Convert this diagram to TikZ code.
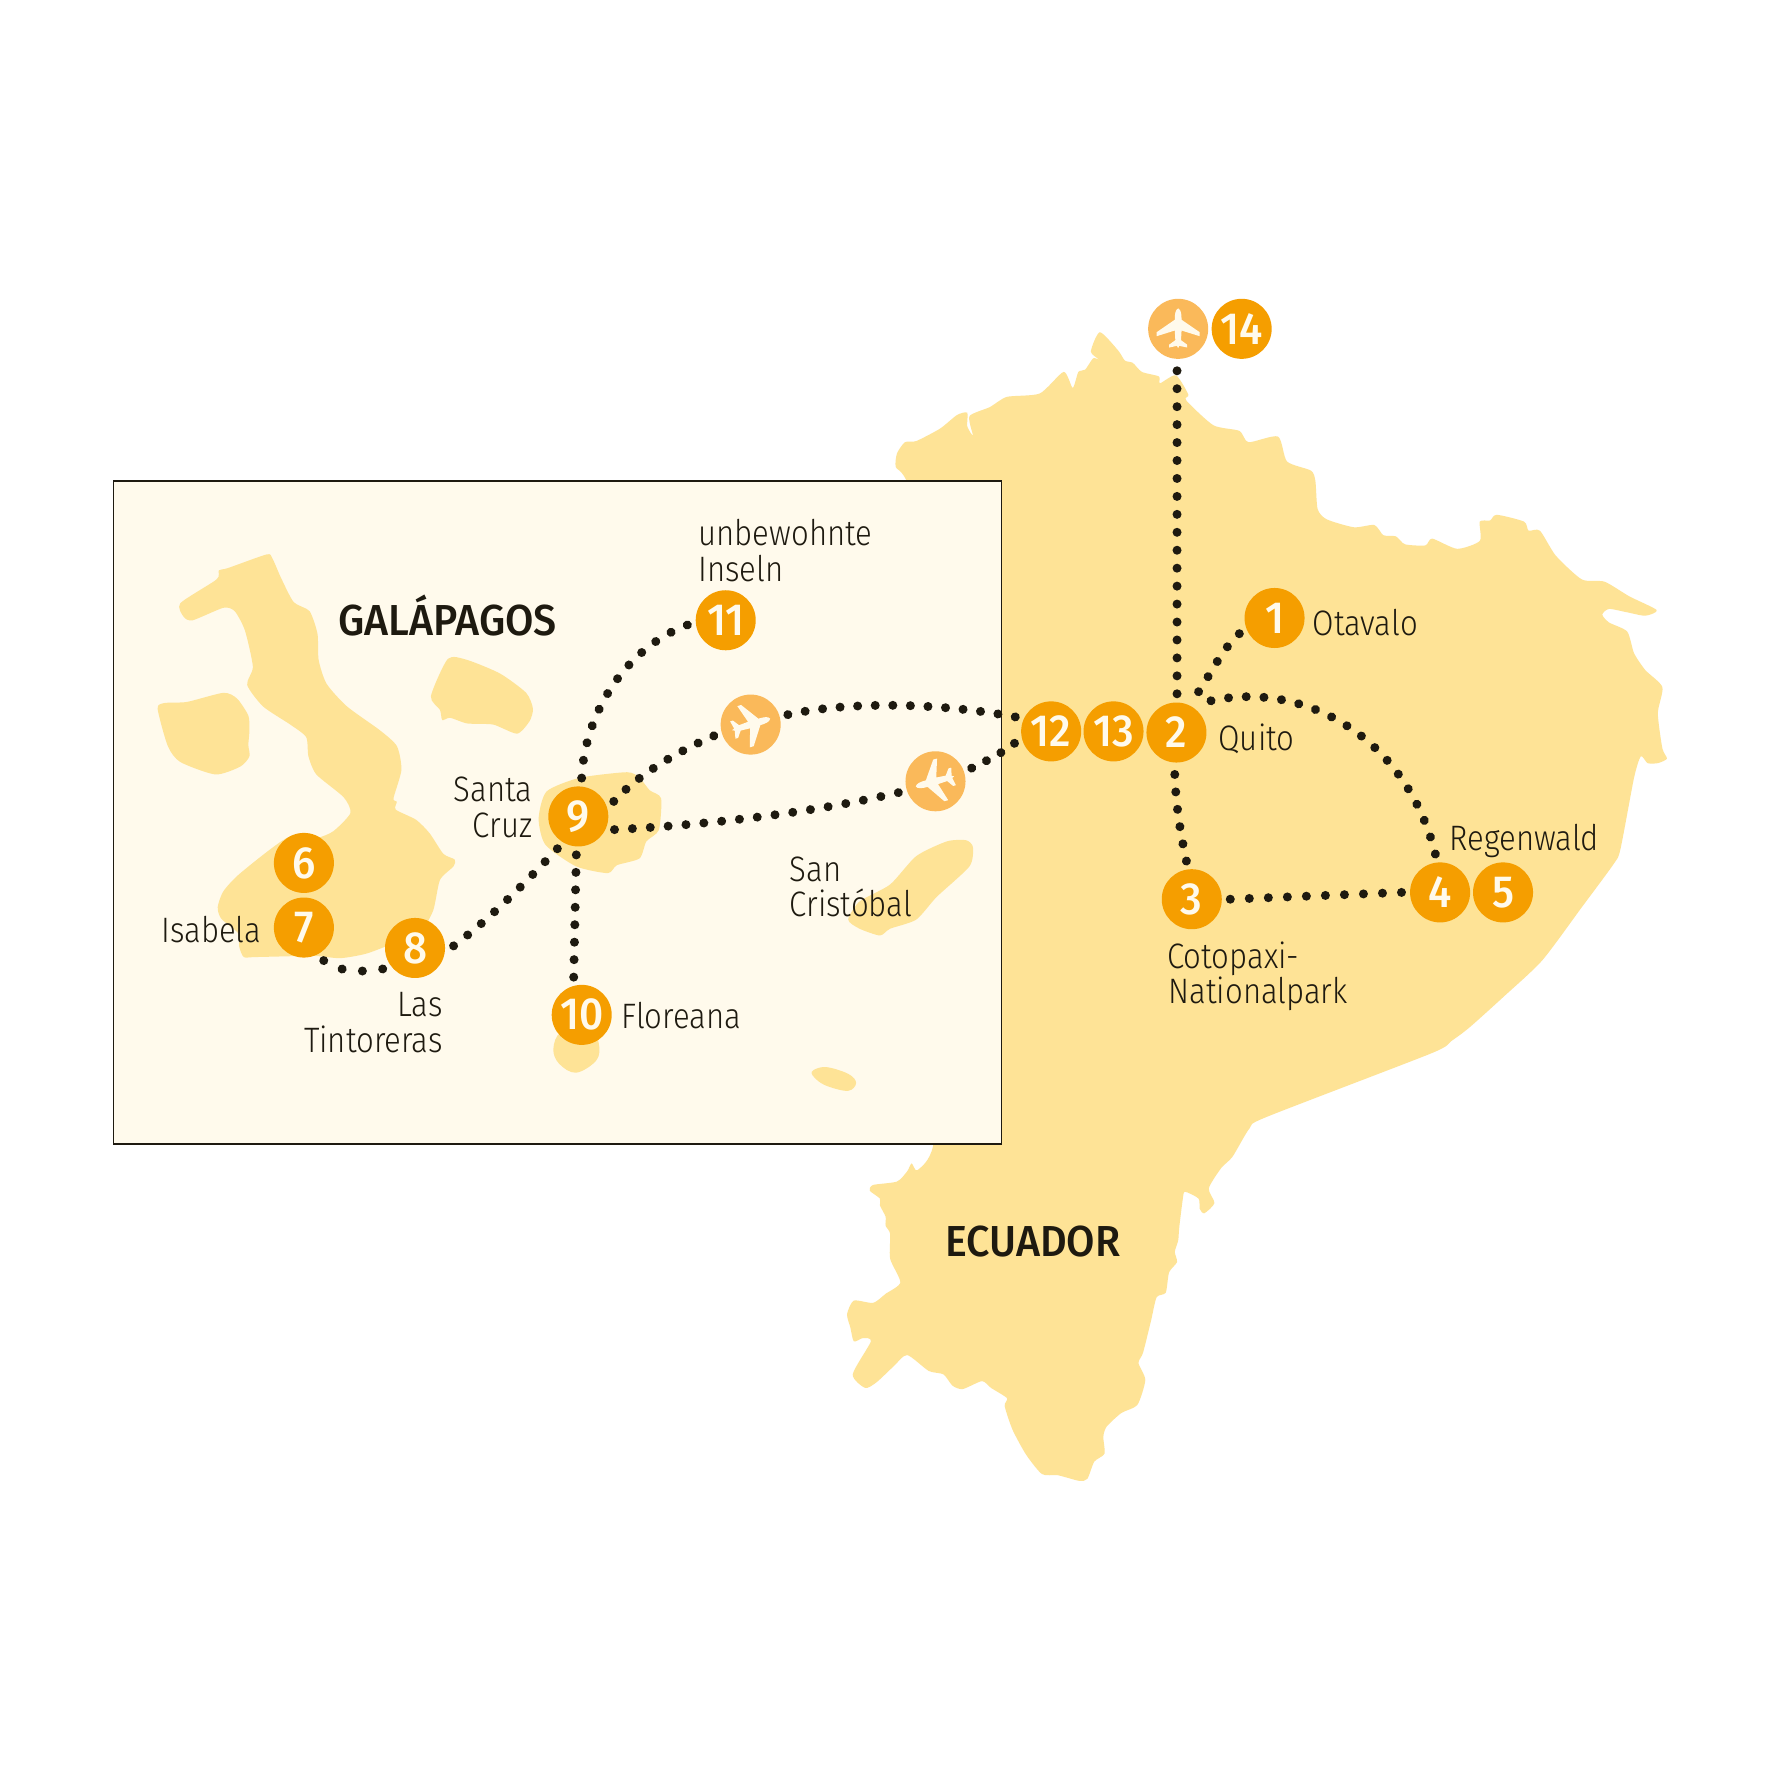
\documentclass[tikz,border=0pt]{standalone}
\usepackage{fontspec}
\usetikzlibrary{decorations.markings}
\setmainfont{Fira Sans}[UprightFont=* Light,BoldFont=* Medium,FakeStretch=0.88,BoldFeatures={FakeStretch=0.95}]
\newfontfamily\numfont{Fira Sans Medium}[FakeStretch=0.94]
\definecolor{land}{HTML}{FEE396}
\definecolor{sea}{HTML}{FFFAEC}
\definecolor{orangestop}{HTML}{F59E00}
\definecolor{planestop}{HTML}{FAB95A}
\definecolor{ink}{HTML}{1E1A10}
\tikzset{
 stopbase/.style={circle,inner sep=0pt,minimum size=18pt,outer sep=2.55pt,text=sea,font=\numfont\fontsize{13.5}{13.5}\selectfont},
 stopnum/.style={stopbase,fill=orangestop},
 stopplane/.style={stopbase,fill=planestop},
 route/.code={\pgfmathsetmacro\dotstep{0.9995/#1}\tikzset{decoration={markings,mark=between positions 0 and 1 step \dotstep with {\fill[ink] (0,0) circle (1.35pt);}},postaction=decorate}},
 place/.style={text=ink,inner sep=0pt,font=\fontsize{10.6}{10.6}\selectfont,align=left},
 region/.style={text=ink,inner sep=0pt,font=\bfseries\fontsize{13}{13}\selectfont},
 island/.style={fill=land,draw=none},
 planeicon/.pic={\fill[sea] (0,-18) .. controls (2.5,-17) and (3,-13) .. (3,-8) -- (19,3) -- (19,6.5) -- (3,1.5) -- (2.5,10) -- (8,14) -- (8,16.5) -- (1,15) -- (0,17) -- (-1,15) -- (-8,16.5) -- (-8,14) -- (-2.5,10) -- (-3,1.5) -- (-19,6.5) -- (-19,3) -- (-3,-8) .. controls (-3,-13) and (-2.5,-17) .. (0,-18) -- cycle;}
}
\begin{document}
\begin{tikzpicture}[x=0.34pt,y=-0.34pt]
\useasboundingbox (0,0) rectangle (1568,1568);
\fill[white] (0,0) rectangle (1568,1568);
% mainland
\fill[land] plot[smooth cycle,tension=0.4] coordinates {
(799,423)(790,412)(791,400)(798,390)(808,389)(829,378)(844,366)(853,364)(853,376)(858,384)(855,367)(873,359)(888,350)(917,347)(938,328)(946,342)(951,328)(957,326)(964,316)(969,317)(962,310)(970,293)(986,309)(992,318)(999,320)(1007,328)(1022,332)(1023,338)(1037,331)(1048,348)(1046,353)(1070,375)(1093,380)(1101,390)(1127,385)(1135,407)(1156,415)(1160,424)(1162,449)(1170,458)(1194,465)(1212,463)(1220,472)(1231,473)(1239,480)(1257,481)(1263,475)(1285,484)(1305,477)(1305,460)(1314,459)(1320,454)(1344,460)(1348,468)(1358,468)(1372,490)(1395,511)(1415,513)(1437,526)(1461,538)(1451,543)(1435,540)(1419,537)(1413,542)(1419,549)(1435,557)(1441,576)(1451,591)(1466,606)(1462,629)(1466,660)(1470,669)(1462,673)(1453,673)(1447,667)(1441,686)(1429,749)(1423,762)(1395,800)(1360,847)(1326,879)(1296,906)(1280,918)(1262,929)(1117,985)(1102,995)(1087,1020)(1077,1030)(1066,1048)(1071,1061)(1062,1070)(1058,1066)(1057,1057)(1045,1051)(1043,1058)(1040,1082)(1039,1094)(1036,1104)(1038,1113)(1031,1122)(1028,1140)(1020,1144)(1015,1165)(1008,1193)(1004,1202)(1010,1217)(1003,1239)(989,1246)(976,1258)(973,1267)(974,1282)(965,1289)(959,1304)(952,1306)(933,1301)(919,1300)(905,1283)(893,1261)(886,1240)(888,1233)(874,1224)(866,1218)(849,1225)(840,1222)(832,1212)(819,1209)(800,1195)(788,1205)(773,1219)(763,1224)(752,1212)(768,1183)(761,1180)(753,1183)(750,1171)(747,1159)(753,1147)(770,1149)(781,1141)(794,1131)(785,1110)(785,1088)(781,1081)(781,1073)(776,1063)(776,1057)(767,1050)(770,1045)(791,1042)(800,1033)(804,1026)(809,1032)(823,1010)(835,900)(835,500)};
% inset
\draw[fill=sea,draw=ink,line width=0.45pt] (100,424) rectangle (883,1009);
\fill[island] plot[smooth cycle,tension=0.4] coordinates {(159,532)(191,511)(193,503)(201,501)(235,489)(240,492)(248,510)(259,531)(273,539)(280,559)(281,582)(288,603)(306,623)(335,644)(350,658)(354,679)(347,704)(350,707)(349,714)(367,723)(379,735)(391,753)(401,758)(400,764)(388,776)(382,803)(370,823)(347,832)(323,841)(300,845)(276,843)(226,844)(215,844)(211,835)(210,823)(195,810)(192,800)(197,786)(212,770)(253,739)(279,739)(294,733)(309,717)(303,703)(279,683)(272,667)(270,650)(256,639)(232,623)(218,604)(223,588)(216,556)(207,539)(197,536)(170,547)(162,544)};
\fill[island] plot[smooth cycle,tension=0.4] coordinates {(139,625)(145,620)(165,619)(197,611)(209,616)(219,631)(220,644)(219,657)(220,667)(212,676)(190,683)(159,672)(148,658)};
\fill[island] plot[smooth cycle,tension=0.4] coordinates {(395,581)(412,582)(441,594)(464,611)(470,625)(467,636)(456,647)(435,639)(412,638)(397,633)(390,635)(388,626)(380,614)};
\fill[island] plot[smooth cycle,tension=0.4] coordinates {(475,722)(482,698)(511,686)(553,681)(564,686)(573,697)(583,704)(581,732)(570,742)(564,757)(544,763)(536,770)(508,764)(481,745)};
\fill[island] plot[smooth cycle,tension=0.4] coordinates {(858,747)(852,741)(835,742)(808,755)(785,780)(758,795)(748,811)(758,819)(776,825)(785,819)(808,811)(826,791)(855,764)};
\fill[island] plot[smooth cycle,tension=0.6] coordinates {(488,925)(495,910)(520,905)(528,920)(526,935)(508,946)(493,938)};
\fill[island] plot[smooth cycle,tension=0.6] coordinates {(716,945)(728,941)(748,947)(755,955)(748,962)(730,958)(720,952)};
% stops
\node[stopnum] (n1) at (1124,545) {1};
\node[stopnum] (n2) at (1037.5,646) {2};
\node[stopnum] (n3) at (1051,793) {3};
\node[stopnum] (n4) at (1270,787) {4};
\node[stopnum] (n5) at (1325.5,787) {5};
\node[stopnum] (n6) at (268,761) {6};
\node[stopnum] (n7) at (268,818) {7};
\node[stopnum] (n8) at (366,836) {8};
\node[stopnum] (n9) at (510,720) {9};
\node[stopnum] (n10) at (513,895) {10};
\node[stopnum] (n11) at (640,547) {11};
\node[stopnum] (n12) at (927,645) {12};
\node[stopnum] (n13) at (982,645) {13};
\node[stopnum] (n14) at (1095,290) {14};
\node[stopplane] (p1) at (662,639) {};
\node[stopplane] (p2) at (825,689) {};
\node[stopplane] (p3) at (1039,290) {};
\pic[rotate=-73] at (p1) {planeicon};
\pic[rotate=105] at (p2) {planeicon};
\pic at (p3) {planeicon};
% free ends of the routes leaving Quito at a wider gap
\coordinate (q1) at (1038,327);
\coordinate (q2) at (1038,612);
\coordinate (q3) at (1057,610);
\coordinate (q4) at (1068,618);
\coordinate (q5) at (1036,683);
% routes
\path[route=18] (q1) -- (q2);
\path[route=4] (q3) .. controls (1068,594) and (1078,572) .. (n1.204);
\path[route=17] (q4) .. controls (1150,600) and (1240,650) .. (n4.97);
\path[route=5] (q5) .. controls (1037,710) and (1041,735) .. (n3.98);
\path[route=9] (n3.0) -- (n4.180);
\path[route=13] (p1.15) .. controls (750,618) and (830,620) .. (n12.158);
\path[route=7] (n9.23) .. controls (562,684) and (595,664) .. (p1.197);
\path[route=16] (n9.-20) .. controls (630,727) and (720,716) .. (p2.197);
\path[route=3] (p2.20) .. controls (868,672) and (884,664) .. (n12.198);
\path[route=11] (n9.85) .. controls (516,625) and (555,570) .. (n11.187);
\path[route=8] (n9.237) .. controls (462,780) and (430,812) .. (n8.3);
\path[route=7] (n9.267) -- (n10.102);
\path[route=3] (n7.-59) .. controls (298,857) and (318,858) .. (n8.213);
% labels
\node[place,anchor=base west] (lotavalo) at (1157,560) {Otavalo};
\node[place,anchor=base west] (lquito) at (1074,662) {Quito};
\node[place,anchor=base west] (lregen) at (1278,750) {Regenwald};
\node[place,anchor=base west] (lcoto1) at (1029,854) {Cotopaxi-};
\node[place,anchor=base west] (lcoto2) at (1030,885) {Nationalpark};
\node[place,anchor=base west] (lunb1) at (615.5,481) {unbewohnte};
\node[place,anchor=base west] (lunb2) at (615.5,513) {Inseln};
\node[place,anchor=base east] (lsc1) at (470,707) {Santa};
\node[place,anchor=base east] (lsc2) at (470,739) {Cruz};
\node[place,anchor=base east] (lisa) at (231,831) {Isabela};
\node[place,anchor=base east] (llas1) at (391,896) {Las};
\node[place,anchor=base east] (llas2) at (391,928) {Tintoreras};
\node[place,anchor=base west] (lflo) at (547.5,907) {Floreana};
\node[place,anchor=base west] (lsan1) at (696,777) {San};
\node[place,anchor=base west] (lsan2) at (696,808) {Cristóbal};
\node[region,anchor=base west] (lgal) at (298,560) {GALÁPAGOS};
\node[region,anchor=base west] (lecu) at (833,1108) {ECUADOR};
\end{tikzpicture}
\end{document}
